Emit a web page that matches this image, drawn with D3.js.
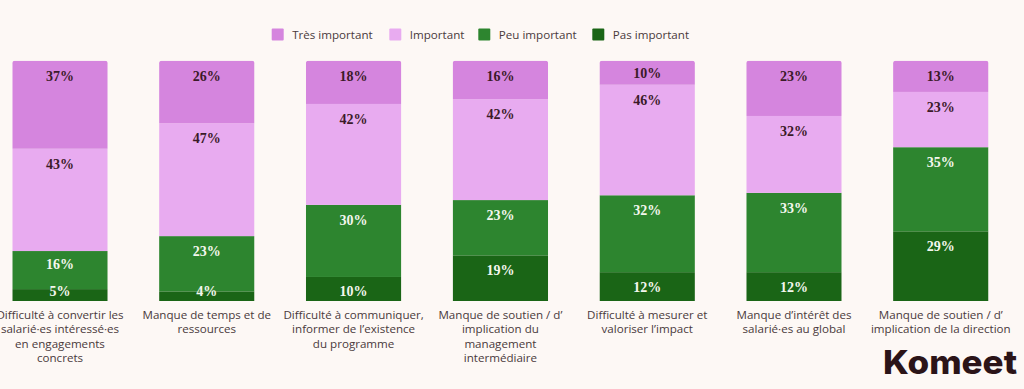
<!DOCTYPE html>
<html>
<head>
<meta charset="utf-8">
<script src="https://cdn.jsdelivr.net/npm/d3@7"></script>
<style>
  html, body { margin: 0; padding: 0; background: #fdf8f5; }
  svg { display: block; }
</style>
</head>
<body>
<div id="chart"></div>
<script>
// stacked 100% bars, one per obstacle
const width = 1024,
      height = 389;

const categories = [
  ["Difficulté à convertir les", "salarié·es intéressé·es", "en engagements", "concrets"],
  ["Manque de temps et de", "ressources"],
  ["Difficulté à communiquer,", "informer de l’existence", "du programme"],
  ["Manque de soutien / d’", "implication du", "management", "intermédiaire"],
  ["Difficulté à mesurer et", "valoriser l’impact"],
  ["Manque d’intérêt des", "salarié·es au global"],
  ["Manque de soutien / d’", "implication de la direction"]
];
const seriesNames = ["Pas important", "Peu important", "Important", "Très important"];
const legendOrder = ["Très important", "Important", "Peu important", "Pas important"];

const pasImportant   = [5, 4, 10, 19, 12, 12, 29];
const peuImportant   = [16, 23, 30, 23, 32, 33, 35];
const important      = [43, 47, 42, 42, 46, 32, 23];
const tresImportant  = [37, 26, 18, 16, 10, 23, 13];

const colors = {
  "Très important": "#d585de",
  "Important": "#e8abf0",
  "Peu important": "#2d852f",
  "Pas important": "#1a6516"
};
const labelColors = {
  "Très important": "#3b1a28",
  "Important": "#3b1a28",
  "Peu important": "#f4f7ee",
  "Pas important": "#f4f7ee"
};

// table for d3.stack
const rows = categories.map((c, i) => ({
  idx: i,
  "Pas important": pasImportant[i],
  "Peu important": peuImportant[i],
  "Important": important[i],
  "Très important": tresImportant[i]
}));

const svg = d3.select("#chart").append("svg")
    .attr("width", width)
    .attr("height", height);

const x = d3.scaleBand()
    .domain(d3.range(categories.length))
    .range([12.3, 988.5])
    .paddingInner(0.35)
    .paddingOuter(0);

const y = d3.scaleLinear()
    .domain([0, 1])
    .range([301, 60.7]);

const stack = d3.stack()
    .keys(seriesNames)
    .offset(d3.stackOffsetExpand);
const layers = stack(rows);

// clip each bar so only the top corners are rounded
const defs = svg.append("defs");
categories.forEach((c, i) => {
  defs.append("clipPath").attr("id", "clip" + i)
    .append("path")
    .attr("d", () => {
      const x0 = x(i), x1 = x(i) + x.bandwidth(), t = y(1), b = y(0), r = 2.5;
      return `M${x0},${b}V${t + r}Q${x0},${t} ${x0 + r},${t}H${x1 - r}Q${x1},${t} ${x1},${t + r}V${b}Z`;
    });
});

const bars = svg.append("g");
layers.forEach(layer => {
  bars.selectAll(null)
    .data(layer)
    .enter().append("rect")
    .attr("clip-path", d => `url(#clip${d.data.idx})`)
    .attr("x", d => x(d.data.idx))
    .attr("width", x.bandwidth())
    .attr("y", d => y(d[1]))
    .attr("height", d => y(d[0]) - y(d[1]))
    .attr("fill", colors[layer.key]);
});

// value labels: near top of segment, pushed up when crowded
const labels = svg.append("g")
    .attr("font-family", "'Liberation Serif', serif")
    .attr("font-weight", 700)
    .attr("font-size", 14)
    .attr("text-anchor", "middle");

rows.forEach((r, i) => {
  let lower = y(0) - 10 + 27;
  layers.forEach(layer => {
    const d = layer[i];
    const top = y(d[1]);
    const cy = Math.min(top + 15, y(0) - 10, lower - 27);
    lower = cy;
    labels.append("text")
      .attr("x", x(i) + x.bandwidth() / 2)
      .attr("y", cy)
      .attr("dy", "0.35em")
      .attr("fill", labelColors[layer.key])
      .text(r[layer.key] + "%");
  });
});

// category labels under bars
const cats = svg.append("g")
    .attr("font-family", "'Open Sans', sans-serif")
    .attr("font-size", 11.6)
    .attr("fill", "#4a3a3c")
    .attr("text-anchor", "middle");

categories.forEach((lines, i) => {
  const t = cats.append("text")
    .attr("x", x(i) + x.bandwidth() / 2)
    .attr("y", 315)
    .attr("dy", "0.35em");
  lines.forEach((ln, j) => {
    t.append("tspan")
      .attr("x", x(i) + x.bandwidth() / 2)
      .attr("dy", j === 0 ? "0.35em" : 14.3)
      .text(ln);
  });
});

// legend
const legendX = [271.7, 389.3, 478.3, 592.3];
const legend = svg.append("g")
    .attr("font-family", "'Open Sans', sans-serif")
    .attr("font-size", 11.6)
    .attr("fill", "#4a3a3c");

legendOrder.forEach((k, i) => {
  const g = legend.append("g").attr("transform", `translate(${legendX[i]},28.5)`);
  g.append("rect")
    .attr("width", 12)
    .attr("height", 12)
    .attr("rx", 1)
    .attr("fill", colors[k]);
  g.append("text")
    .attr("x", 20.5)
    .attr("y", 6)
    .attr("dy", "0.35em")
    .text(k);
});

// logo
svg.append("text")
    .attr("x", 883)
    .attr("y", 374)
    .attr("font-family", "Inter, 'Noto Sans', sans-serif")
    .attr("font-weight", 800)
    .attr("font-size", 33)
    .attr("fill", "#2b1418")
    .attr("textLength", 134)
    .attr("lengthAdjust", "spacingAndGlyphs")
    .text("Komeet");
</script>
</body>
</html>
